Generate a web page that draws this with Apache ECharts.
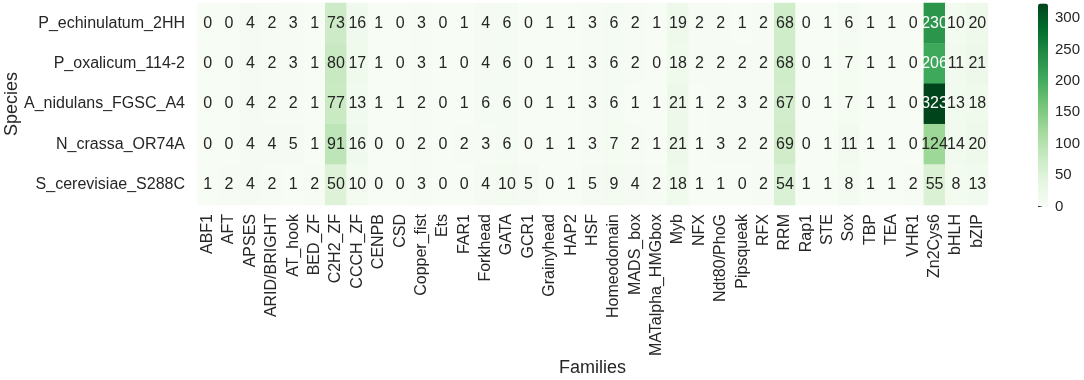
<!DOCTYPE html>
<html>
<head>
<meta charset="utf-8">
<script src="https://cdn.jsdelivr.net/npm/echarts@6/dist/echarts.min.js"></script>
<style>
  html, body { margin: 0; padding: 0; background: #fff; }
  #chart { width: 1084px; height: 380px; }
</style>
</head>
<body>
<div id="chart"></div>
<script>
// families (columns) and species (rows)
const families = ['ABF1', 'AFT', 'APSES', 'ARID/BRIGHT', 'AT_hook', 'BED_ZF', 'C2H2_ZF', 'CCCH_ZF', 'CENPB', 'CSD',
  'Copper_fist', 'Ets', 'FAR1', 'Forkhead', 'GATA', 'GCR1', 'Grainyhead', 'HAP2', 'HSF', 'Homeodomain',
  'MADS_box', 'MATalpha_HMGbox', 'Myb', 'NFX', 'Ndt80/PhoG', 'Pipsqueak', 'RFX', 'RRM', 'Rap1', 'STE',
  'Sox', 'TBP', 'TEA', 'VHR1', 'Zn2Cys6', 'bHLH', 'bZIP'];
const species = ['P_echinulatum_2HH', 'P_oxalicum_114-2', 'A_nidulans_FGSC_A4', 'N_crassa_OR74A', 'S_cerevisiae_S288C'];

// counts per species, one value per family
const echinulatum = [0, 0, 4, 2, 3, 1, 73, 16, 1, 0, 3, 0, 1, 4, 6, 0, 1, 1, 3, 6, 2, 1, 19, 2, 2, 1, 2, 68, 0, 1, 6, 1, 1, 0, 230, 10, 20];
const oxalicum    = [0, 0, 4, 2, 3, 1, 80, 17, 1, 0, 3, 1, 0, 4, 6, 0, 1, 1, 3, 6, 2, 0, 18, 2, 2, 2, 2, 68, 0, 1, 7, 1, 1, 0, 206, 11, 21];
const nidulans    = [0, 0, 4, 2, 2, 1, 77, 13, 1, 1, 2, 0, 1, 6, 6, 0, 1, 1, 3, 6, 1, 1, 21, 1, 2, 3, 2, 67, 0, 1, 7, 1, 1, 0, 323, 13, 18];
const crassa      = [0, 0, 4, 4, 5, 1, 91, 16, 0, 0, 2, 0, 2, 3, 6, 0, 1, 1, 3, 7, 2, 1, 21, 1, 3, 2, 2, 69, 0, 1, 11, 1, 1, 0, 124, 14, 20];
const cerevisiae  = [1, 2, 4, 2, 1, 2, 50, 10, 0, 0, 3, 0, 0, 4, 10, 5, 0, 1, 5, 9, 4, 2, 18, 1, 1, 0, 2, 54, 1, 1, 8, 1, 1, 2, 55, 8, 13];

const colorbarTicks = [0, 50, 100, 150, 200, 250, 300];
const colorMax = 323;

// seaborn "Greens"
const greens = ['#f7fcf5', '#e5f5e0', '#c7e9c0', '#a1d99b', '#74c476', '#41ab5d', '#238b45', '#006d2c', '#00441b'];

const rows = [echinulatum, oxalicum, nidulans, crassa, cerevisiae];
const cells = [];
rows.forEach((row, y) => {
  row.forEach((v, x) => {
    cells.push({
      value: [x, y, v],
      label: { color: v > 180 ? '#ffffff' : '#262626' }
    });
  });
});

const font = "'Liberation Sans', Arial, sans-serif";
const chart = echarts.init(document.getElementById('chart'));
const option = {
  backgroundColor: '#ffffff',
  animation: false,
  grid: [
    { left: 197, right: 96, top: 3, bottom: 175, outerBoundsMode: 'none', containLabel: false },
    { left: 1038, width: 10, top: 3.5, height: 203, outerBoundsMode: 'none', containLabel: false }
  ],
  xAxis: [
    {
      type: 'category',
      gridIndex: 0,
      data: families,
      name: 'Families',
      nameLocation: 'middle',
      nameGap: 154,
      nameMoveOverlap: false,
      nameTextStyle: { fontFamily: font, fontSize: 18, color: '#262626' },
      axisLine: { show: false },
      axisTick: { show: false },
      splitLine: { show: false },
      axisLabel: { rotate: 90, interval: 0, margin: 9, fontFamily: font, fontSize: 16, color: '#262626' }
    },
    { type: 'value', gridIndex: 1, show: false, min: 0, max: 1 }
  ],
  yAxis: [
    {
      type: 'category',
      gridIndex: 0,
      data: species,
      inverse: true,
      name: 'Species',
      nameLocation: 'middle',
      nameGap: 176,
      nameRotate: 90,
      nameMoveOverlap: false,
      nameTextStyle: { fontFamily: font, fontSize: 18, color: '#262626' },
      axisLine: { show: false },
      axisTick: { show: false },
      splitLine: { show: false },
      axisLabel: { margin: 12, fontFamily: font, fontSize: 16, color: '#262626' }
    },
    {
      type: 'value',
      gridIndex: 1,
      position: 'right',
      min: 0,
      max: colorMax,
      axisLine: { show: false },
      splitLine: { show: false },
      axisTick: { show: true, length: 4, customValues: colorbarTicks, lineStyle: { color: '#262626', width: 1 } },
      axisLabel: { customValues: colorbarTicks, margin: 7, fontFamily: font, fontSize: 15, color: '#262626' }
    }
  ],
  visualMap: {
    type: 'continuous',
    seriesIndex: 0,
    min: 0,
    max: colorMax,
    calculable: false,
    left: 1038,
    top: 3.5,
    itemWidth: 10,
    itemHeight: 203,
    padding: 0,
    text: null,
    showLabel: false,
    hoverLink: false,
    inRange: { color: greens }
  },
  series: [
    {
      type: 'heatmap',
      xAxisIndex: 0,
      yAxisIndex: 0,
      data: cells,
      label: { show: true, fontFamily: font, fontSize: 16 },
      itemStyle: { borderWidth: 0 },
      emphasis: { disabled: true }
    }
  ]
};
chart.setOption(option);
</script>
</body>
</html>
